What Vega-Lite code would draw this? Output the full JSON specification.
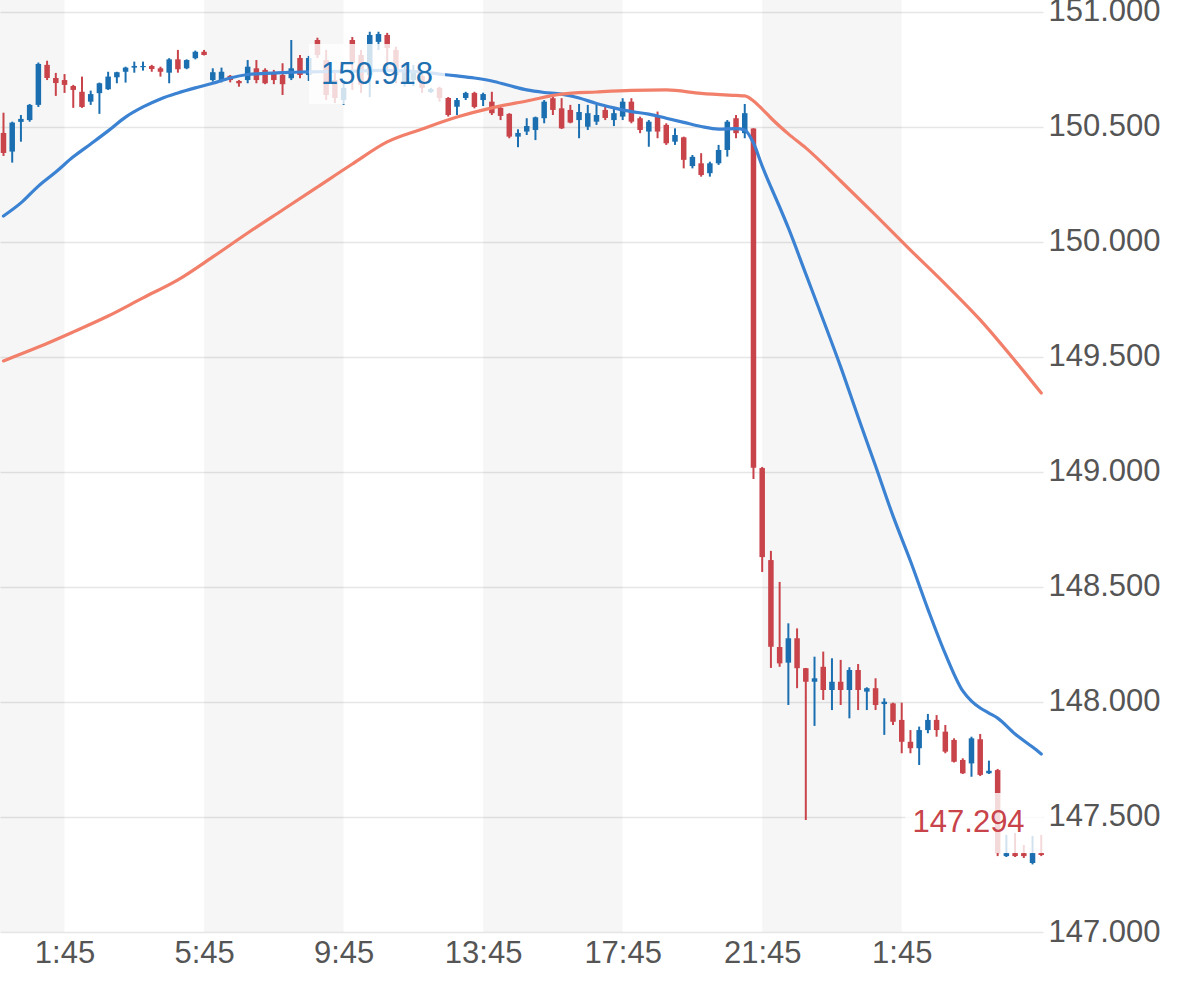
{
  "$schema": "https://vega.github.io/schema/vega-lite/v6.json",
  "width": 1043,
  "height": 932,
  "autosize": "none",
  "padding": {"left": 0, "top": 0, "right": 136, "bottom": 54},
  "background": "white",
  "config": {
    "view": {"stroke": null},
    "font": "Liberation Sans"
  },
  "datasets": {
    "bands": [
      {"s": "2024-03-26T23:54:00", "e": "2024-03-27T01:45:00"},
      {"s": "2024-03-27T05:45:00", "e": "2024-03-27T09:45:00"},
      {"s": "2024-03-27T13:45:00", "e": "2024-03-27T17:45:00"},
      {"s": "2024-03-27T21:45:00", "e": "2024-03-28T01:45:00"}
    ],
    "candles": [
      {"t": "2024-03-27T00:00:00", "o": 150.474, "h": 150.562, "l": 150.374, "c": 150.387},
      {"t": "2024-03-27T00:15:00", "o": 150.393, "h": 150.523, "l": 150.345, "c": 150.519},
      {"t": "2024-03-27T00:30:00", "o": 150.522, "h": 150.552, "l": 150.436, "c": 150.535},
      {"t": "2024-03-27T00:45:00", "o": 150.530, "h": 150.600, "l": 150.523, "c": 150.596},
      {"t": "2024-03-27T01:00:00", "o": 150.596, "h": 150.780, "l": 150.587, "c": 150.774},
      {"t": "2024-03-27T01:15:00", "o": 150.770, "h": 150.788, "l": 150.704, "c": 150.713},
      {"t": "2024-03-27T01:30:00", "o": 150.713, "h": 150.735, "l": 150.635, "c": 150.691},
      {"t": "2024-03-27T01:45:00", "o": 150.704, "h": 150.730, "l": 150.648, "c": 150.683},
      {"t": "2024-03-27T02:00:00", "o": 150.678, "h": 150.683, "l": 150.583, "c": 150.661},
      {"t": "2024-03-27T02:15:00", "o": 150.653, "h": 150.719, "l": 150.583, "c": 150.587},
      {"t": "2024-03-27T02:30:00", "o": 150.610, "h": 150.658, "l": 150.596, "c": 150.643},
      {"t": "2024-03-27T02:45:00", "o": 150.647, "h": 150.693, "l": 150.557, "c": 150.690},
      {"t": "2024-03-27T03:00:00", "o": 150.664, "h": 150.740, "l": 150.661, "c": 150.719},
      {"t": "2024-03-27T03:15:00", "o": 150.716, "h": 150.740, "l": 150.690, "c": 150.738},
      {"t": "2024-03-27T03:30:00", "o": 150.740, "h": 150.762, "l": 150.693, "c": 150.758},
      {"t": "2024-03-27T03:45:00", "o": 150.758, "h": 150.784, "l": 150.736, "c": 150.765},
      {"t": "2024-03-27T04:00:00", "o": 150.760, "h": 150.784, "l": 150.745, "c": 150.765},
      {"t": "2024-03-27T04:15:00", "o": 150.765, "h": 150.770, "l": 150.740, "c": 150.752},
      {"t": "2024-03-27T04:30:00", "o": 150.755, "h": 150.762, "l": 150.719, "c": 150.740},
      {"t": "2024-03-27T04:45:00", "o": 150.736, "h": 150.799, "l": 150.690, "c": 150.794},
      {"t": "2024-03-27T05:00:00", "o": 150.794, "h": 150.835, "l": 150.736, "c": 150.751},
      {"t": "2024-03-27T05:15:00", "o": 150.755, "h": 150.794, "l": 150.751, "c": 150.791},
      {"t": "2024-03-27T05:30:00", "o": 150.799, "h": 150.832, "l": 150.794, "c": 150.827},
      {"t": "2024-03-27T05:45:00", "o": 150.827, "h": 150.835, "l": 150.811, "c": 150.813},
      {"t": "2024-03-27T06:00:00", "o": 150.704, "h": 150.755, "l": 150.697, "c": 150.738},
      {"t": "2024-03-27T06:15:00", "o": 150.704, "h": 150.758, "l": 150.694, "c": 150.740},
      {"t": "2024-03-27T06:30:00", "o": 150.722, "h": 150.726, "l": 150.694, "c": 150.704},
      {"t": "2024-03-27T06:45:00", "o": 150.700, "h": 150.704, "l": 150.675, "c": 150.690},
      {"t": "2024-03-27T07:00:00", "o": 150.704, "h": 150.791, "l": 150.690, "c": 150.762},
      {"t": "2024-03-27T07:15:00", "o": 150.755, "h": 150.791, "l": 150.690, "c": 150.704},
      {"t": "2024-03-27T07:30:00", "o": 150.748, "h": 150.755, "l": 150.686, "c": 150.690},
      {"t": "2024-03-27T07:45:00", "o": 150.739, "h": 150.748, "l": 150.686, "c": 150.704},
      {"t": "2024-03-27T08:00:00", "o": 150.726, "h": 150.777, "l": 150.639, "c": 150.686},
      {"t": "2024-03-27T08:15:00", "o": 150.712, "h": 150.878, "l": 150.704, "c": 150.755},
      {"t": "2024-03-27T08:30:00", "o": 150.800, "h": 150.813, "l": 150.712, "c": 150.726},
      {"t": "2024-03-27T08:45:00", "o": 150.726, "h": 150.809, "l": 150.700, "c": 150.800},
      {"t": "2024-03-27T09:00:00", "o": 150.878, "h": 150.888, "l": 150.800, "c": 150.813},
      {"t": "2024-03-27T09:15:00", "o": 150.791, "h": 150.835, "l": 150.617, "c": 150.639},
      {"t": "2024-03-27T09:30:00", "o": 150.704, "h": 150.735, "l": 150.604, "c": 150.626},
      {"t": "2024-03-27T09:45:00", "o": 150.617, "h": 150.704, "l": 150.596, "c": 150.670},
      {"t": "2024-03-27T10:00:00", "o": 150.878, "h": 150.891, "l": 150.661, "c": 150.778},
      {"t": "2024-03-27T10:15:00", "o": 150.813, "h": 150.835, "l": 150.648, "c": 150.683},
      {"t": "2024-03-27T10:30:00", "o": 150.726, "h": 150.914, "l": 150.630, "c": 150.900},
      {"t": "2024-03-27T10:45:00", "o": 150.870, "h": 150.914, "l": 150.835, "c": 150.904},
      {"t": "2024-03-27T11:00:00", "o": 150.900, "h": 150.909, "l": 150.739, "c": 150.843},
      {"t": "2024-03-27T11:15:00", "o": 150.835, "h": 150.849, "l": 150.690, "c": 150.726},
      {"t": "2024-03-27T11:30:00", "o": 150.687, "h": 150.778, "l": 150.675, "c": 150.748},
      {"t": "2024-03-27T11:45:00", "o": 150.704, "h": 150.770, "l": 150.678, "c": 150.739},
      {"t": "2024-03-27T12:00:00", "o": 150.722, "h": 150.735, "l": 150.648, "c": 150.670},
      {"t": "2024-03-27T12:15:00", "o": 150.652, "h": 150.670, "l": 150.648, "c": 150.665},
      {"t": "2024-03-27T12:30:00", "o": 150.670, "h": 150.675, "l": 150.610, "c": 150.626},
      {"t": "2024-03-27T12:45:00", "o": 150.626, "h": 150.630, "l": 150.545, "c": 150.552},
      {"t": "2024-03-27T13:00:00", "o": 150.588, "h": 150.626, "l": 150.552, "c": 150.617},
      {"t": "2024-03-27T13:15:00", "o": 150.626, "h": 150.653, "l": 150.617, "c": 150.648},
      {"t": "2024-03-27T13:30:00", "o": 150.648, "h": 150.653, "l": 150.581, "c": 150.587},
      {"t": "2024-03-27T13:45:00", "o": 150.617, "h": 150.649, "l": 150.591, "c": 150.643},
      {"t": "2024-03-27T14:00:00", "o": 150.610, "h": 150.653, "l": 150.552, "c": 150.560},
      {"t": "2024-03-27T14:15:00", "o": 150.583, "h": 150.588, "l": 150.530, "c": 150.548},
      {"t": "2024-03-27T14:30:00", "o": 150.557, "h": 150.560, "l": 150.451, "c": 150.458},
      {"t": "2024-03-27T14:45:00", "o": 150.458, "h": 150.490, "l": 150.412, "c": 150.474},
      {"t": "2024-03-27T15:00:00", "o": 150.480, "h": 150.538, "l": 150.465, "c": 150.504},
      {"t": "2024-03-27T15:15:00", "o": 150.487, "h": 150.545, "l": 150.443, "c": 150.542},
      {"t": "2024-03-27T15:30:00", "o": 150.538, "h": 150.617, "l": 150.516, "c": 150.610},
      {"t": "2024-03-27T15:45:00", "o": 150.625, "h": 150.632, "l": 150.552, "c": 150.574},
      {"t": "2024-03-27T16:00:00", "o": 150.581, "h": 150.625, "l": 150.491, "c": 150.494},
      {"t": "2024-03-27T16:15:00", "o": 150.574, "h": 150.596, "l": 150.516, "c": 150.519},
      {"t": "2024-03-27T16:30:00", "o": 150.530, "h": 150.600, "l": 150.451, "c": 150.565},
      {"t": "2024-03-27T16:45:00", "o": 150.501, "h": 150.596, "l": 150.487, "c": 150.560},
      {"t": "2024-03-27T17:00:00", "o": 150.523, "h": 150.596, "l": 150.509, "c": 150.552},
      {"t": "2024-03-27T17:15:00", "o": 150.574, "h": 150.588, "l": 150.530, "c": 150.539},
      {"t": "2024-03-27T17:30:00", "o": 150.530, "h": 150.581, "l": 150.504, "c": 150.560},
      {"t": "2024-03-27T17:45:00", "o": 150.545, "h": 150.625, "l": 150.530, "c": 150.610},
      {"t": "2024-03-27T18:00:00", "o": 150.610, "h": 150.625, "l": 150.516, "c": 150.523},
      {"t": "2024-03-27T18:15:00", "o": 150.538, "h": 150.545, "l": 150.473, "c": 150.487},
      {"t": "2024-03-27T18:30:00", "o": 150.480, "h": 150.530, "l": 150.414, "c": 150.523},
      {"t": "2024-03-27T18:45:00", "o": 150.545, "h": 150.567, "l": 150.451, "c": 150.480},
      {"t": "2024-03-27T19:00:00", "o": 150.509, "h": 150.516, "l": 150.422, "c": 150.429},
      {"t": "2024-03-27T19:15:00", "o": 150.436, "h": 150.494, "l": 150.422, "c": 150.465},
      {"t": "2024-03-27T19:30:00", "o": 150.455, "h": 150.458, "l": 150.320, "c": 150.357},
      {"t": "2024-03-27T19:45:00", "o": 150.330, "h": 150.378, "l": 150.320, "c": 150.370},
      {"t": "2024-03-27T20:00:00", "o": 150.342, "h": 150.386, "l": 150.284, "c": 150.291},
      {"t": "2024-03-27T20:15:00", "o": 150.299, "h": 150.349, "l": 150.284, "c": 150.342},
      {"t": "2024-03-27T20:30:00", "o": 150.342, "h": 150.422, "l": 150.335, "c": 150.400},
      {"t": "2024-03-27T20:45:00", "o": 150.400, "h": 150.530, "l": 150.371, "c": 150.523},
      {"t": "2024-03-27T21:00:00", "o": 150.538, "h": 150.552, "l": 150.451, "c": 150.473},
      {"t": "2024-03-27T21:15:00", "o": 150.473, "h": 150.600, "l": 150.451, "c": 150.560},
      {"t": "2024-03-27T21:30:00", "o": 150.493, "h": 150.494, "l": 148.970, "c": 149.018},
      {"t": "2024-03-27T21:45:00", "o": 149.017, "h": 149.022, "l": 148.565, "c": 148.630},
      {"t": "2024-03-27T22:00:00", "o": 148.617, "h": 148.657, "l": 148.148, "c": 148.240},
      {"t": "2024-03-27T22:15:00", "o": 148.239, "h": 148.522, "l": 148.153, "c": 148.168},
      {"t": "2024-03-27T22:30:00", "o": 148.171, "h": 148.342, "l": 147.987, "c": 148.277},
      {"t": "2024-03-27T22:45:00", "o": 148.277, "h": 148.320, "l": 148.060, "c": 148.147},
      {"t": "2024-03-27T23:00:00", "o": 148.147, "h": 148.148, "l": 147.487, "c": 148.088},
      {"t": "2024-03-27T23:15:00", "o": 148.088, "h": 148.197, "l": 147.896, "c": 148.103},
      {"t": "2024-03-27T23:30:00", "o": 148.153, "h": 148.219, "l": 148.009, "c": 148.052},
      {"t": "2024-03-27T23:45:00", "o": 148.052, "h": 148.190, "l": 147.965, "c": 148.088},
      {"t": "2024-03-28T00:00:00", "o": 148.088, "h": 148.183, "l": 147.987, "c": 148.052},
      {"t": "2024-03-28T00:15:00", "o": 148.052, "h": 148.151, "l": 147.929, "c": 148.139},
      {"t": "2024-03-28T00:30:00", "o": 148.139, "h": 148.165, "l": 147.965, "c": 148.052},
      {"t": "2024-03-28T00:45:00", "o": 148.045, "h": 148.064, "l": 147.965, "c": 148.060},
      {"t": "2024-03-28T01:00:00", "o": 148.060, "h": 148.103, "l": 147.965, "c": 147.987},
      {"t": "2024-03-28T01:15:00", "o": 147.991, "h": 148.016, "l": 147.857, "c": 148.001},
      {"t": "2024-03-28T01:30:00", "o": 147.994, "h": 147.997, "l": 147.900, "c": 147.914},
      {"t": "2024-03-28T01:45:00", "o": 147.922, "h": 147.997, "l": 147.777, "c": 147.827},
      {"t": "2024-03-28T02:00:00", "o": 147.827, "h": 147.878, "l": 147.777, "c": 147.799},
      {"t": "2024-03-28T02:15:00", "o": 147.799, "h": 147.893, "l": 147.726, "c": 147.878},
      {"t": "2024-03-28T02:30:00", "o": 147.878, "h": 147.948, "l": 147.864, "c": 147.922},
      {"t": "2024-03-28T02:45:00", "o": 147.922, "h": 147.943, "l": 147.849, "c": 147.878},
      {"t": "2024-03-28T03:00:00", "o": 147.871, "h": 147.900, "l": 147.777, "c": 147.784},
      {"t": "2024-03-28T03:15:00", "o": 147.835, "h": 147.842, "l": 147.737, "c": 147.740},
      {"t": "2024-03-28T03:30:00", "o": 147.748, "h": 147.755, "l": 147.687, "c": 147.690},
      {"t": "2024-03-28T03:45:00", "o": 147.733, "h": 147.849, "l": 147.675, "c": 147.842},
      {"t": "2024-03-28T04:00:00", "o": 147.838, "h": 147.861, "l": 147.678, "c": 147.683},
      {"t": "2024-03-28T04:15:00", "o": 147.690, "h": 147.745, "l": 147.687, "c": 147.701},
      {"t": "2024-03-28T04:30:00", "o": 147.704, "h": 147.709, "l": 147.330, "c": 147.343},
      {"t": "2024-03-28T04:45:00", "o": 147.330, "h": 147.422, "l": 147.326, "c": 147.343},
      {"t": "2024-03-28T05:00:00", "o": 147.343, "h": 147.430, "l": 147.326, "c": 147.330},
      {"t": "2024-03-28T05:15:00", "o": 147.343, "h": 147.378, "l": 147.322, "c": 147.330},
      {"t": "2024-03-28T05:30:00", "o": 147.300, "h": 147.417, "l": 147.294, "c": 147.343},
      {"t": "2024-03-28T05:45:00", "o": 147.343, "h": 147.422, "l": 147.330, "c": 147.335}
    ],
    "fast": [
      {"t": "2024-03-27T00:00:00", "v": 150.113},
      {"t": "2024-03-27T00:30:00", "v": 150.170},
      {"t": "2024-03-27T01:00:00", "v": 150.243},
      {"t": "2024-03-27T01:30:00", "v": 150.304},
      {"t": "2024-03-27T02:00:00", "v": 150.370},
      {"t": "2024-03-27T02:30:00", "v": 150.426},
      {"t": "2024-03-27T03:00:00", "v": 150.483},
      {"t": "2024-03-27T03:30:00", "v": 150.543},
      {"t": "2024-03-27T04:00:00", "v": 150.587},
      {"t": "2024-03-27T04:30:00", "v": 150.622},
      {"t": "2024-03-27T05:00:00", "v": 150.648},
      {"t": "2024-03-27T05:30:00", "v": 150.670},
      {"t": "2024-03-27T06:00:00", "v": 150.690},
      {"t": "2024-03-27T06:30:00", "v": 150.713},
      {"t": "2024-03-27T07:00:00", "v": 150.728},
      {"t": "2024-03-27T07:30:00", "v": 150.733},
      {"t": "2024-03-27T08:00:00", "v": 150.736},
      {"t": "2024-03-27T08:30:00", "v": 150.739},
      {"t": "2024-03-27T09:00:00", "v": 150.740},
      {"t": "2024-03-27T10:00:00", "v": 150.743},
      {"t": "2024-03-27T11:00:00", "v": 150.746},
      {"t": "2024-03-27T12:00:00", "v": 150.739},
      {"t": "2024-03-27T12:30:00", "v": 150.730},
      {"t": "2024-03-27T13:00:00", "v": 150.722},
      {"t": "2024-03-27T13:30:00", "v": 150.713},
      {"t": "2024-03-27T14:00:00", "v": 150.700},
      {"t": "2024-03-27T14:30:00", "v": 150.680},
      {"t": "2024-03-27T15:00:00", "v": 150.661},
      {"t": "2024-03-27T15:30:00", "v": 150.650},
      {"t": "2024-03-27T16:00:00", "v": 150.643},
      {"t": "2024-03-27T16:30:00", "v": 150.626},
      {"t": "2024-03-27T17:00:00", "v": 150.602},
      {"t": "2024-03-27T17:30:00", "v": 150.583},
      {"t": "2024-03-27T18:00:00", "v": 150.567},
      {"t": "2024-03-27T18:30:00", "v": 150.556},
      {"t": "2024-03-27T19:00:00", "v": 150.538},
      {"t": "2024-03-27T19:30:00", "v": 150.520},
      {"t": "2024-03-27T20:00:00", "v": 150.502},
      {"t": "2024-03-27T20:30:00", "v": 150.491},
      {"t": "2024-03-27T21:00:00", "v": 150.493},
      {"t": "2024-03-27T21:15:00", "v": 150.487},
      {"t": "2024-03-27T21:30:00", "v": 150.430},
      {"t": "2024-03-27T21:45:00", "v": 150.330},
      {"t": "2024-03-27T22:00:00", "v": 150.239},
      {"t": "2024-03-27T22:15:00", "v": 150.152},
      {"t": "2024-03-27T22:30:00", "v": 150.061},
      {"t": "2024-03-27T23:00:00", "v": 149.861},
      {"t": "2024-03-27T23:30:00", "v": 149.661},
      {"t": "2024-03-28T00:00:00", "v": 149.457},
      {"t": "2024-03-28T00:30:00", "v": 149.239},
      {"t": "2024-03-28T01:00:00", "v": 149.026},
      {"t": "2024-03-28T01:30:00", "v": 148.809},
      {"t": "2024-03-28T02:00:00", "v": 148.613},
      {"t": "2024-03-28T02:30:00", "v": 148.404},
      {"t": "2024-03-28T03:00:00", "v": 148.209},
      {"t": "2024-03-28T03:30:00", "v": 148.048},
      {"t": "2024-03-28T03:45:00", "v": 148.004},
      {"t": "2024-03-28T04:00:00", "v": 147.974},
      {"t": "2024-03-28T04:15:00", "v": 147.952},
      {"t": "2024-03-28T04:30:00", "v": 147.930},
      {"t": "2024-03-28T05:00:00", "v": 147.861},
      {"t": "2024-03-28T05:30:00", "v": 147.804},
      {"t": "2024-03-28T05:45:00", "v": 147.774}
    ],
    "slow": [
      {"t": "2024-03-27T00:00:00", "v": 149.483},
      {"t": "2024-03-27T01:00:00", "v": 149.543},
      {"t": "2024-03-27T02:00:00", "v": 149.609},
      {"t": "2024-03-27T03:00:00", "v": 149.678},
      {"t": "2024-03-27T04:00:00", "v": 149.757},
      {"t": "2024-03-27T05:00:00", "v": 149.835},
      {"t": "2024-03-27T06:00:00", "v": 149.935},
      {"t": "2024-03-27T07:00:00", "v": 150.039},
      {"t": "2024-03-27T08:00:00", "v": 150.139},
      {"t": "2024-03-27T09:00:00", "v": 150.239},
      {"t": "2024-03-27T10:00:00", "v": 150.339},
      {"t": "2024-03-27T11:00:00", "v": 150.435},
      {"t": "2024-03-27T12:00:00", "v": 150.491},
      {"t": "2024-03-27T13:00:00", "v": 150.543},
      {"t": "2024-03-27T14:00:00", "v": 150.583},
      {"t": "2024-03-27T15:00:00", "v": 150.613},
      {"t": "2024-03-27T16:00:00", "v": 150.643},
      {"t": "2024-03-27T17:00:00", "v": 150.652},
      {"t": "2024-03-27T18:00:00", "v": 150.659},
      {"t": "2024-03-27T19:00:00", "v": 150.661},
      {"t": "2024-03-27T20:00:00", "v": 150.646},
      {"t": "2024-03-27T21:00:00", "v": 150.637},
      {"t": "2024-03-27T21:15:00", "v": 150.635},
      {"t": "2024-03-27T21:30:00", "v": 150.613},
      {"t": "2024-03-27T21:45:00", "v": 150.578},
      {"t": "2024-03-27T22:00:00", "v": 150.539},
      {"t": "2024-03-27T22:30:00", "v": 150.470},
      {"t": "2024-03-27T23:00:00", "v": 150.409},
      {"t": "2024-03-28T00:00:00", "v": 150.265},
      {"t": "2024-03-28T01:00:00", "v": 150.117},
      {"t": "2024-03-28T02:00:00", "v": 149.965},
      {"t": "2024-03-28T03:00:00", "v": 149.817},
      {"t": "2024-03-28T04:00:00", "v": 149.661},
      {"t": "2024-03-28T05:00:00", "v": 149.483},
      {"t": "2024-03-28T05:45:00", "v": 149.343}
    ],
    "boxes": [
      {"t1": "2024-03-27T08:45:30", "t2": "2024-03-27T12:39:30", "p1": 150.600, "p2": 150.861},
      {"t1": "2024-03-28T01:51:00", "t2": "2024-03-28T05:48:00", "p1": 147.343, "p2": 147.604}
    ],
    "labels": [
      {"t": "2024-03-27T10:42:30", "p": 150.726, "label": "150.918", "series": "fast"},
      {"t": "2024-03-28T03:40:00", "p": 147.472, "label": "147.294", "series": "last"}
    ]
  },
  "layer": [
    {
      "data": {"name": "bands"},
      "mark": {"type": "rect", "color": "#000000", "opacity": 0.035},
      "encoding": {
        "x": {
          "field": "s",
          "type": "temporal",
          "title": null,
          "scale": {
            "domain": [
              {"year": 2024, "month": 3, "date": 26, "hours": 23, "minutes": 54},
              {"year": 2024, "month": 3, "date": 28, "hours": 5, "minutes": 48}
            ]
          },
          "axis": {
            "values": [
              {"year": 2024, "month": 3, "date": 27, "hours": 1, "minutes": 45},
              {"year": 2024, "month": 3, "date": 27, "hours": 5, "minutes": 45},
              {"year": 2024, "month": 3, "date": 27, "hours": 9, "minutes": 45},
              {"year": 2024, "month": 3, "date": 27, "hours": 13, "minutes": 45},
              {"year": 2024, "month": 3, "date": 27, "hours": 17, "minutes": 45},
              {"year": 2024, "month": 3, "date": 27, "hours": 21, "minutes": 45},
              {"year": 2024, "month": 3, "date": 28, "hours": 1, "minutes": 45}
            ],
            "format": "%-H:%M",
            "grid": false,
            "ticks": false,
            "domain": false,
            "labelFont": "Liberation Sans",
            "labelFontSize": 31,
            "labelColor": "#555555",
            "labelPadding": 6,
            "labelFlush": false,
            "labelOverlap": false
          }
        },
        "x2": {"field": "e"}
      }
    },
    {
      "data": {"name": "candles"},
      "mark": {"type": "rule", "strokeWidth": 2},
      "encoding": {
        "x": {"field": "t", "type": "temporal", "title": null},
        "y": {
          "field": "l",
          "type": "quantitative",
          "title": null,
          "scale": {"domain": [147, 151.052], "nice": false, "zero": false},
          "axis": {
            "orient": "right",
            "values": [147, 147.5, 148, 148.5, 149, 149.5, 150, 150.5, 151],
            "format": ".3f",
            "grid": true,
            "gridColor": "#e6e6e6",
            "gridWidth": 1.5,
            "ticks": false,
            "domain": false,
            "labelFont": "Liberation Sans",
            "labelFontSize": 31,
            "labelColor": "#555555",
            "labelPadding": 5,
            "labelOverlap": false
          }
        },
        "y2": {"field": "h"},
        "color": {
          "condition": {"test": "datum.c >= datum.o", "value": "#1b6fb0"},
          "value": "#c8434a"
        }
      }
    },
    {
      "data": {"name": "candles"},
      "mark": {"type": "rule", "strokeWidth": 5.5},
      "encoding": {
        "x": {"field": "t", "type": "temporal", "title": null},
        "y": {"field": "o", "type": "quantitative", "title": null},
        "y2": {"field": "c"},
        "color": {
          "condition": {"test": "datum.c >= datum.o", "value": "#1b6fb0"},
          "value": "#c8434a"
        }
      }
    },
    {
      "data": {"name": "fast"},
      "mark": {"type": "line", "color": "#3b82d2", "strokeWidth": 3.2, "interpolate": "monotone", "strokeCap": "round"},
      "encoding": {
        "x": {"field": "t", "type": "temporal", "title": null},
        "y": {"field": "v", "type": "quantitative", "title": null}
      }
    },
    {
      "data": {"name": "slow"},
      "mark": {"type": "line", "color": "#f17f6a", "strokeWidth": 3.2, "interpolate": "monotone", "strokeCap": "round"},
      "encoding": {
        "x": {"field": "t", "type": "temporal", "title": null},
        "y": {"field": "v", "type": "quantitative", "title": null}
      }
    },
    {
      "data": {"name": "boxes"},
      "mark": {"type": "rect", "color": "#ffffff", "opacity": 0.8},
      "encoding": {
        "x": {"field": "t1", "type": "temporal", "title": null},
        "x2": {"field": "t2"},
        "y": {"field": "p1", "type": "quantitative", "title": null},
        "y2": {"field": "p2"}
      }
    },
    {
      "data": {"name": "labels"},
      "mark": {"type": "text", "font": "Liberation Sans", "fontSize": 31, "align": "center", "baseline": "middle"},
      "encoding": {
        "x": {"field": "t", "type": "temporal", "title": null},
        "y": {"field": "p", "type": "quantitative", "title": null},
        "text": {"field": "label"},
        "color": {
          "field": "series",
          "type": "nominal",
          "scale": {"domain": ["fast", "last"], "range": ["#1f70b0", "#c8434a"]},
          "legend": null
        }
      }
    }
  ]
}
